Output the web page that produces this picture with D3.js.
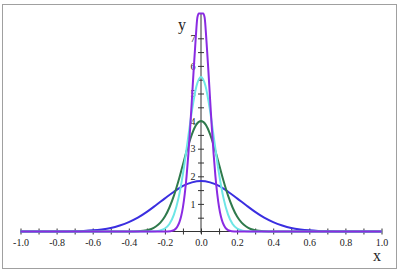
<!DOCTYPE html>
<html><head><meta charset="utf-8">
<script src="https://cdn.jsdelivr.net/npm/d3@7"></script>
<style>body{margin:0;background:#fff}svg{display:block}</style>
</head><body>
<svg id="c" width="400" height="275"></svg>
<script>
// x tick values and labels
const xTicks = [-1.0,-0.9,-0.8,-0.7,-0.6,-0.5,-0.4,-0.3,-0.2,-0.1,0,0.1,0.2,0.3,0.4,0.5,0.6,0.7,0.8,0.9,1.0];
const xLabels = ["-1.0","","-0.8","","-0.6","","-0.4","","-0.2","","0.0","","0.2","","0.4","","0.6","","0.8","","1.0"];
const yTicks = [0.5,1,1.5,2,2.5,3,3.5,4,4.5,5,5.5,6,6.5,7];
const yLabels = ["","1","","2","","3","","4","","5","","6","","7"];

// series (x values, y values)
const blueX = [-1,-0.9,-0.8,-0.7,-0.65,-0.6,-0.55,-0.5,-0.45,-0.4,-0.35,-0.3,-0.25,-0.2,-0.15,-0.1,-0.05,0,0.05,0.1,0.15,0.2,0.25,0.3,0.35,0.4,0.45,0.5,0.55,0.6,0.65,0.7,0.8,0.9,1];
const blueY = [0,0,0.001,0.01,0.021,0.041,0.076,0.13,0.22,0.34,0.50,0.71,0.95,1.20,1.44,1.65,1.78,1.83,1.78,1.65,1.44,1.20,0.95,0.71,0.50,0.34,0.22,0.13,0.076,0.041,0.021,0.01,0.001,0,0];

const greenX = [-1,-0.4,-0.35,-0.3,-0.275,-0.25,-0.225,-0.2,-0.175,-0.15,-0.125,-0.1,-0.075,-0.05,-0.025,0,0.025,0.05,0.075,0.1,0.125,0.15,0.175,0.2,0.225,0.25,0.275,0.3,0.35,0.4,1];
const greenY = [0,0,0.009,0.044,0.09,0.18,0.32,0.54,0.87,1.30,1.83,2.43,3.02,3.53,3.88,4.0,3.88,3.53,3.02,2.43,1.83,1.30,0.87,0.54,0.32,0.18,0.09,0.044,0.009,0,0];

const cyanX = [-1,-0.3,-0.25,-0.225,-0.2,-0.175,-0.15,-0.125,-0.1,-0.075,-0.05,-0.025,0,0.025,0.05,0.075,0.1,0.125,0.15,0.175,0.2,0.225,0.25,0.3,1];
const cyanY = [0,0,0.01,0.04,0.11,0.27,0.61,1.20,2.09,3.22,4.38,5.27,5.6,5.27,4.38,3.22,2.09,1.20,0.61,0.27,0.11,0.04,0.01,0,0];

const purpleX = [-1,-0.2,-0.17,-0.15,-0.14,-0.13,-0.12,-0.11,-0.1,-0.09,-0.08,-0.07,-0.06,-0.05,-0.04,-0.03,-0.02,-0.012,0,0.012,0.02,0.03,0.04,0.05,0.06,0.07,0.08,0.09,0.1,0.11,0.12,0.13,0.14,0.15,0.17,0.2,1];
const purpleY = [0,0,0.01,0.05,0.10,0.19,0.33,0.55,0.88,1.36,2.00,2.80,3.76,4.83,5.92,6.93,7.76,7.9,7.9,7.9,7.76,6.93,5.92,4.83,3.76,2.80,2.00,1.36,0.88,0.55,0.33,0.19,0.10,0.05,0.01,0,0];

const series = [
  {x: blueX, y: blueY, color: "#3a2ee0"},
  {x: greenX, y: greenY, color: "#2f7a4c"},
  {x: cyanX, y: cyanY, color: "#6ee6e6"},
  {x: purpleX, y: purpleY, color: "#8a2be2"}
];

const svg = d3.select("#c");
const x = d3.scaleLinear().domain([-1, 1]).range([20.5, 381.5]);
const y = d3.scaleLinear().domain([0, 7]).range([231.5, 38.3]);

// frame
svg.append("rect").attr("x", 2.5).attr("y", 4.5).attr("width", 394).attr("height", 264)
  .attr("fill", "none").attr("stroke", "#a0a0a0").attr("stroke-width", 1);

const axisColor = "#333";
const serif = "'Liberation Serif','DejaVu Serif',serif";

// x axis
svg.append("line").attr("x1", x(-1)).attr("x2", x(1)).attr("y1", y(0)).attr("y2", y(0))
  .attr("stroke", axisColor);
const gx = svg.append("g").attr("transform", `translate(0,${y(0) - 3})`)
  .call(d3.axisBottom(x).tickValues(xTicks).tickSize(6).tickPadding(4)
    .tickFormat((d, i) => xLabels[i]));
gx.select(".domain").remove();
gx.selectAll(".tick line").attr("stroke", axisColor);
gx.selectAll("text").attr("font-family", serif).attr("font-size", 10).attr("fill", "#222");

// y axis
svg.append("line").attr("x1", x(0)).attr("x2", x(0)).attr("y1", y(0) + 2).attr("y2", 13)
  .attr("stroke", axisColor);
const gy = svg.append("g").attr("transform", `translate(${x(0) + 3},0)`)
  .call(d3.axisLeft(y).tickValues(yTicks).tickSize(6).tickPadding(2.5)
    .tickFormat((d, i) => yLabels[i]));
gy.select(".domain").remove();
gy.selectAll(".tick line").attr("stroke", axisColor);
gy.selectAll("text").attr("font-family", serif).attr("font-size", 10).attr("fill", "#222");

// axis titles
svg.append("text").attr("x", 182).attr("y", 30).attr("text-anchor", "middle")
  .attr("font-family", serif).attr("font-size", 16).attr("fill", "#222").text("y");
svg.append("text").attr("x", 377).attr("y", 261).attr("text-anchor", "middle")
  .attr("font-family", serif).attr("font-size", 16).attr("fill", "#222").text("x");

// curves
const line = d3.line().x(d => x(d[0])).y(d => y(d[1])).curve(d3.curveMonotoneX);
series.forEach(s => {
  svg.append("path").datum(s.x.map((v, i) => [v, s.y[i]]))
    .attr("d", line).attr("fill", "none").attr("stroke", s.color)
    .attr("stroke-width", 2).attr("stroke-linejoin", "round");
});
</script>
</body></html>
